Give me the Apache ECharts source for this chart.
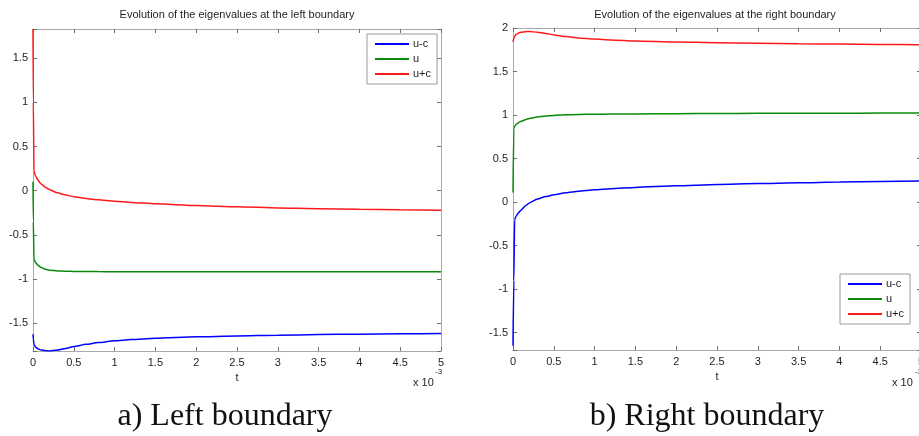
<!DOCTYPE html>
<html>
<head>
<meta charset="utf-8">
<script src="https://cdn.jsdelivr.net/npm/echarts@6/dist/echarts.min.js"></script>
<style>
  html, body { margin: 0; padding: 0; background: #ffffff; }
  #chart { width: 919px; height: 436px; }
</style>
</head>
<body>
<div id="chart"></div>
<script>
// Time samples, in units of 1e-3
const tLeft  = [0, 0.004, 0.012, 0.03, 0.06, 0.1, 0.15, 0.2, 0.3, 0.4, 0.5, 0.65, 0.8, 1.0, 1.2, 1.5, 2.0, 2.5, 3.0, 3.5, 4.0, 4.5, 5.0];
const tRight = [0, 0.01, 0.02, 0.04, 0.07, 0.1, 0.15, 0.2, 0.3, 0.4, 0.5, 0.65, 0.8, 1.0, 1.2, 1.5, 2.0, 2.5, 3.0, 3.5, 4.0, 4.5, 5.0];

// Eigenvalues at the left boundary
const leftUminusC = [-1.625, -1.68, -1.74, -1.77, -1.79, -1.803, -1.812, -1.815, -1.805, -1.786, -1.765, -1.74, -1.72, -1.70, -1.686, -1.671, -1.655, -1.644, -1.636, -1.629, -1.624, -1.62, -1.616];
const leftU       = [0.10, -0.35, -0.78, -0.81, -0.845, -0.87, -0.89, -0.90, -0.908, -0.912, -0.914, -0.915, -0.916, -0.917, -0.917, -0.918, -0.918, -0.918, -0.919, -0.919, -0.919, -0.919, -0.919];
const leftUplusC  = [1.83, 1.0, 0.22, 0.17, 0.12, 0.075, 0.04, 0.012, -0.025, -0.05, -0.068, -0.088, -0.104, -0.12, -0.133, -0.149, -0.168, -0.183, -0.195, -0.204, -0.211, -0.217, -0.222];

// Eigenvalues at the right boundary
const rightUminusC = [-1.65, -0.9, -0.2, -0.16, -0.12, -0.09, -0.045, -0.01, 0.035, 0.063, 0.084, 0.106, 0.123, 0.14, 0.153, 0.168, 0.187, 0.201, 0.212, 0.221, 0.229, 0.236, 0.242];
const rightU       = [0.11, 0.85, 0.87, 0.893, 0.913, 0.928, 0.947, 0.961, 0.978, 0.989, 0.996, 1.002, 1.006, 1.009, 1.011, 1.013, 1.016, 1.018, 1.019, 1.02, 1.021, 1.022, 1.023];
const rightUplusC  = [1.84, 1.88, 1.905, 1.928, 1.943, 1.952, 1.958, 1.959, 1.952, 1.938, 1.921, 1.901, 1.886, 1.873, 1.863, 1.851, 1.839, 1.831, 1.825, 1.819, 1.815, 1.811, 1.807];

const seriesNames = ['u-c', 'u', 'u+c'];
const seriesColors = ['#0000ff', '#0a8a0a', '#ff1a1a'];
const xTicks = { min: 0, max: 5, interval: 0.5 };
const leftRange  = { min: -1.815, max: 1.83 };
const rightRange = { min: -1.7, max: 2 };

const panelTitles = ['Evolution of the eigenvalues at the left boundary', 'Evolution of the eigenvalues at the right boundary'];
const captions = ['a) Left boundary', 'b) Right boundary'];

const FONT = '"Liberation Sans", Arial, Helvetica, sans-serif';
const SERIF = '"Liberation Serif", "DejaVu Serif", serif';
const AXIS_LINE = '#a9a9a9';
const TICK = '#707070';
const TEXT = '#1e1e1e';

function pairs(t, v) { return t.map((x, i) => [x, v[i]]); }

function halfStep(v) {
  return Math.abs(v * 2 - Math.round(v * 2)) < 1e-6;
}

function xAxisDef(grid, position, showLabels) {
  return {
    type: 'value', gridIndex: grid, position: position,
    min: xTicks.min, max: xTicks.max, interval: xTicks.interval,
    axisLine: { show: true, onZero: false, lineStyle: { color: AXIS_LINE, width: 1 } },
    axisTick: { show: true, inside: true, length: 4, lineStyle: { color: TICK } },
    axisLabel: { show: showLabels, margin: 6, color: TEXT, fontSize: 11, fontFamily: FONT, hideOverlap: false },
    splitLine: { show: false },
    name: showLabels ? 't' : '', nameLocation: 'middle', nameGap: 21,
    nameTextStyle: { color: TEXT, fontSize: 11, fontFamily: FONT }
  };
}

function yAxisDef(grid, position, range, showLabels) {
  return {
    type: 'value', gridIndex: grid, position: position,
    min: range.min, max: range.max, minInterval: 0.5, maxInterval: 0.5, splitNumber: 7,
    axisLine: { show: true, onZero: false, lineStyle: { color: AXIS_LINE, width: 1 } },
    axisTick: { show: true, inside: true, length: 4, lineStyle: { color: TICK } },
    axisLabel: {
      show: showLabels, margin: 5, color: TEXT, fontSize: 11, fontFamily: FONT,
      showMinLabel: true, showMaxLabel: true,
      formatter: v => halfStep(v) ? String(Math.round(v * 2) / 2) : ''
    },
    splitLine: { show: false }
  };
}

function lineSeries(name, color, data, axisX, axisY) {
  return {
    type: 'line', name: name, data: data,
    xAxisIndex: axisX, yAxisIndex: axisY,
    showSymbol: false, symbol: 'none',
    smooth: 0.2, smoothMonotone: 'x',
    lineStyle: { color: color, width: 1.5 },
    itemStyle: { color: color },
    emphasis: { disabled: true }
  };
}

function legendDef(left, top) {
  return {
    data: seriesNames.map(n => ({ name: n, icon: 'rect' })),
    orient: 'vertical', left: left, top: top,
    itemWidth: 34, itemHeight: 2, itemGap: 1,
    padding: [3, 6, 3, 8],
    backgroundColor: '#ffffff', borderColor: '#9a9a9a', borderWidth: 1,
    textStyle: { color: TEXT, fontSize: 11, fontFamily: FONT, lineHeight: 14, padding: [0, 0, 0, -1] },
    selectedMode: false
  };
}

const leftData  = [leftUminusC, leftU, leftUplusC];
const rightData = [rightUminusC, rightU, rightUplusC];

const series = [];
seriesNames.forEach((n, i) => series.push(lineSeries(n, seriesColors[i], pairs(tLeft, leftData[i]), 0, 0)));
seriesNames.forEach((n, i) => series.push(lineSeries(n, seriesColors[i], pairs(tRight, rightData[i]), 2, 2)));

const chart = echarts.init(document.getElementById('chart'), null, { renderer: 'canvas' });
chart.setOption({
  animation: false,
  backgroundColor: '#ffffff',
  grid: [
    { left: 33, top: 29, width: 408, height: 322, containLabel: false, outerBoundsMode: 'none' },
    { left: 513, top: 28, width: 408, height: 322, containLabel: false, outerBoundsMode: 'none' }
  ],
  xAxis: [
    xAxisDef(0, 'bottom', true), xAxisDef(0, 'top', false),
    xAxisDef(1, 'bottom', true), xAxisDef(1, 'top', false)
  ],
  yAxis: [
    yAxisDef(0, 'left', leftRange, true), yAxisDef(0, 'right', leftRange, false),
    yAxisDef(1, 'left', rightRange, true), yAxisDef(1, 'right', rightRange, false)
  ],
  legend: [legendDef(367, 34), legendDef(840, 274)],
  series: series,
  graphic: [
    { type: 'text', x: 237, y: 15, style: { text: panelTitles[0], fill: TEXT, font: '11px ' + FONT, textAlign: 'center', textVerticalAlign: 'middle' } },
    { type: 'text', x: 715, y: 15, style: { text: panelTitles[1], fill: TEXT, font: '11px ' + FONT, textAlign: 'center', textVerticalAlign: 'middle' } },
    { type: 'text', x: 413, y: 383, style: { text: 'x 10', fill: TEXT, font: '11px ' + FONT, textAlign: 'left', textVerticalAlign: 'middle' } },
    { type: 'text', x: 435, y: 372, style: { text: '-3', fill: TEXT, font: '8px ' + FONT, textAlign: 'left', textVerticalAlign: 'middle' } },
    { type: 'text', x: 892, y: 383, style: { text: 'x 10', fill: TEXT, font: '11px ' + FONT, textAlign: 'left', textVerticalAlign: 'middle' } },
    { type: 'text', x: 915, y: 372, style: { text: '-3', fill: TEXT, font: '8px ' + FONT, textAlign: 'left', textVerticalAlign: 'middle' } },
    { type: 'text', x: 225, y: 417, style: { text: captions[0], fill: '#111111', font: '32px ' + SERIF, textAlign: 'center', textVerticalAlign: 'middle' } },
    { type: 'text', x: 707, y: 417, style: { text: captions[1], fill: '#111111', font: '32px ' + SERIF, textAlign: 'center', textVerticalAlign: 'middle' } }
  ]
});
</script>
</body>
</html>
